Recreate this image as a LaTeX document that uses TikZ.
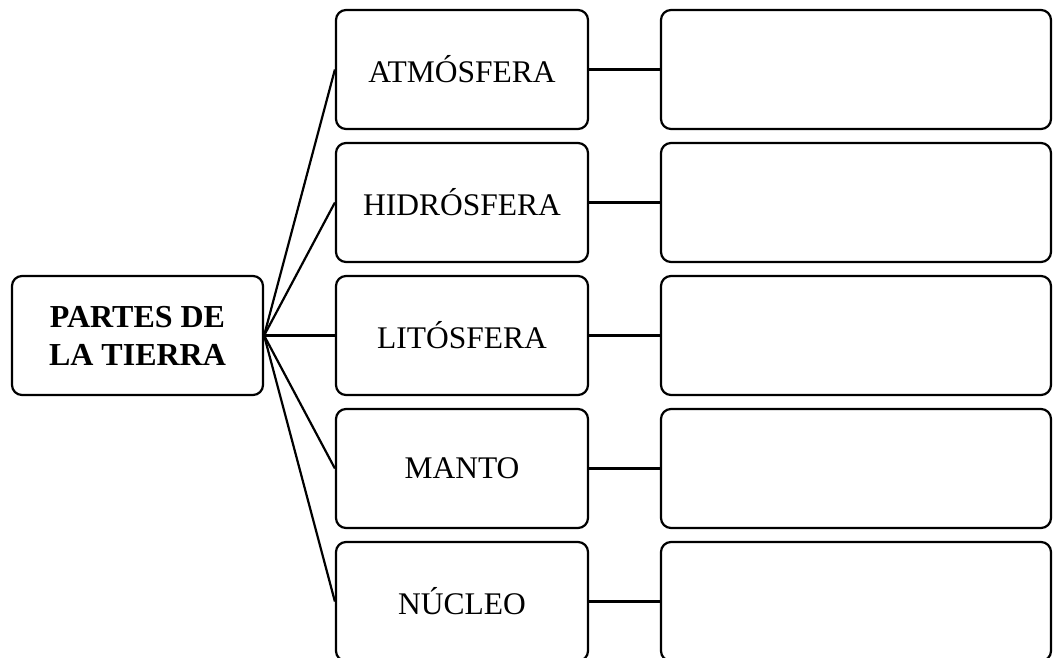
\documentclass[tikz,border=0pt]{standalone}
\usepackage{fontspec}
\setmainfont{Liberation Serif}
\begin{document}
\begin{tikzpicture}[x=1pt,y=-1pt,
  box/.style={draw, line width=2.2pt, rounded corners=10pt, inner sep=0pt,
    minimum height=119pt, align=center,
    font=\fontsize{31.5}{38}\selectfont},
  mainbox/.style={box, minimum width=251pt, font=\fontsize{32}{38}\selectfont\bfseries},
  partbox/.style={box, minimum width=252pt},
  answerbox/.style={box, minimum width=390pt},
  link/.style={line width=2.2pt}]
  \clip (0,0) rectangle (1053,657);

  % central topic
  \node[mainbox] (c) at (137.5,335.5) {PARTES DE\\LA TIERRA};

  % the five layers and their empty answer boxes
  \foreach \name/\txt [count=\i from 0] in
      {a/ATMÓSFERA, h/HIDRÓSFERA, l/LITÓSFERA, m/MANTO, n/NÚCLEO} {
    \node[partbox] (\name) at (462,69.5+133*\i) {\txt};
    \node[answerbox] (\name r) at (856,69.5+133*\i) {};
    \draw[link] (c.east) -- (\name.west);
    \draw[link] (\name.east) -- (\name r.west);
  }
\end{tikzpicture}
\end{document}
